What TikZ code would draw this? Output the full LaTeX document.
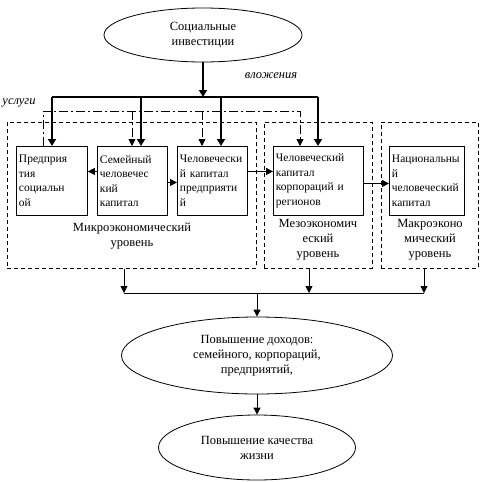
\documentclass[tikz,border=0pt]{standalone}
\usepackage{fontspec}
\setmainfont{Liberation Serif}
\usetikzlibrary{arrows.meta,positioning,shapes.geometric}

\tikzset{
  txt/.style={font=\fontsize{11.5}{14.5}\selectfont},
  bigtxt/.style={font=\fontsize{12.5}{15}\selectfont},
  oval/.style={bigtxt, draw, ellipse, line width=0.8pt, inner sep=0pt, align=center},
  unit/.style={txt, draw, line width=0.9pt, anchor=north west, minimum height=69pt,
    inner xsep=2.5pt, inner ysep=2pt, align=left},
  level/.style={draw, line width=0.8pt, dash pattern=on 4pt off 3pt, anchor=north west},
  lvltxt/.style={bigtxt, align=center},
  note/.style={font=\fontsize{12.5}{14}\selectfont\itshape},
  ln/.style={line width=0.8pt},
  arr/.style={ln, -{Triangle[length=7pt,width=7pt]}},
  fatln/.style={line width=2.6pt},
  fatarr/.style={fatln, -{Triangle[length=7pt,width=8pt]}},
  dashdot/.style={line width=0.8pt, dash pattern=on 9pt off 3pt on 2pt off 3pt},
  dotarr/.style={dashdot, -{Triangle[length=7pt,width=7pt]}},
}

\begin{document}
\begin{tikzpicture}[x=1pt,y=-1pt]
\useasboundingbox (0,0) rectangle (481,482);

% ovals
\node[oval, minimum width=198pt, minimum height=54pt] (inv) at (203,35)
  {Социальные\\инвестиции};
\node[oval, minimum width=271pt, minimum height=77pt] (inc) at (257,355.5)
  {Повышение доходов:\\семейного, корпораций,\\предприятий,};
\node[oval, minimum width=197pt, minimum height=65pt] (life) at (257,447.5)
  {Повышение качества\\жизни};

% levels
\node[level, minimum width=249pt, minimum height=146pt] (micro) at (7,122) {};
\node[level, minimum width=108pt, minimum height=146pt] (meso) at (264,122) {};
\node[level, minimum width=97pt, minimum height=146pt] (macro) at (381,122) {};
\node[lvltxt] at (132,236.5) {Микроэкономический\\уровень};
\node[lvltxt] at (318,240) {Мезоэкономич\\еский\\уровень};
\node[lvltxt] at (430,240) {Макроэконо\\мический\\уровень};

% units
\node[unit, text width=66pt] (b1) at (16,146) {Предприя\\тия\\социальн\\ой};
\node[unit, text width=65pt] (b2) at (97,146) {Семейный\\человечес\\кий\\капитал};
\node[unit, text width=65pt] (b3) at (177,146) {Человечески\\й капитал\\предприяти\\й};
\node[unit, text width=85pt] (b4) at (273,146) {Человеческий\\капитал\\корпораций и\\регионов};
\node[unit, text width=70pt] (b5) at (389,146) {Национальны\\й\\человеческий\\капитал};

\node[note] (inlbl) at (271,76) {вложения};
\node[note] (svlbl) at (19,103) {услуги};

% investments
\coordinate (bm) at (203,97);
\coordinate (t1) at (52,97);
\coordinate (t2) at (141,97);
\coordinate (t3) at (221,97);
\coordinate (t4) at (318,97);
\draw[fatarr] (inv.south) -- (bm);
\draw[fatln] (t1) -- (t4);
\foreach \t/\b in {t1/b1,t2/b2,t3/b3,t4/b4}
  \draw[fatarr] (\t) -- (\t |- \b.north);

% services
\coordinate (s0) at (43,111);
\coordinate (s2) at (132,111);
\coordinate (s3) at (202,111);
\coordinate (s4) at (300,111);
\draw[dotarr] (s0 |- b1.north) -- (s0) -- (s4) -- (s4 |- b4.north);
\foreach \s/\b in {s2/b2,s3/b3}
  \draw[dotarr] (\s) -- (\s |- \b.north);

% links between units
\draw[arr] ([yshift=9.5pt]b2.west) -- ([yshift=9.5pt]b1.east);
\draw[arr] ([yshift=-1.5pt]b2.east) -- ([yshift=-1.5pt]b3.west);
\draw[arr] ([yshift=9.5pt]b3.east) -- ([yshift=9.5pt]b4.west);
\draw[arr] ([yshift=-2.5pt]b4.east) -- ([yshift=-2.5pt]b5.west);

% results
\coordinate (j1) at (124,293);
\coordinate (j2) at (309,293);
\coordinate (j3) at (424,293);
\coordinate (jm) at (257,293);
\draw[arr] (j1 |- micro.south) -- (j1);
\draw[arr] (j2 |- meso.south) -- (j2);
\draw[arr] (j3 |- macro.south) -- (j3);
\draw[ln] (j1) -- (j3);
\draw[arr] (jm) -- (inc.north);
\draw[arr] (inc.south) -- (life.north);
\end{tikzpicture}
\end{document}
